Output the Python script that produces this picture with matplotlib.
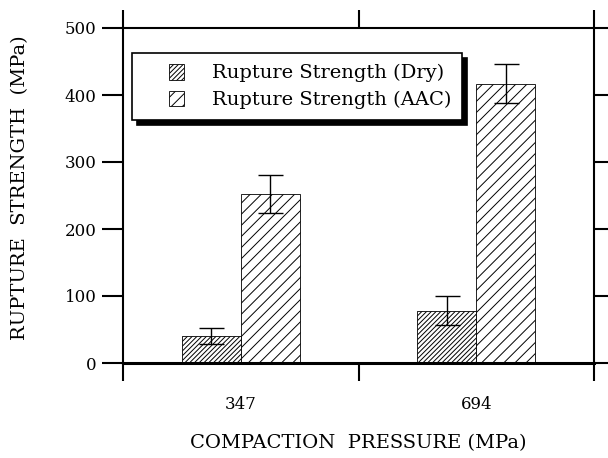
import matplotlib
matplotlib.use('Agg')
import matplotlib.pyplot as plt
import numpy as np
from matplotlib.patches import Rectangle
from matplotlib.container import BarContainer
from matplotlib.legend_handler import HandlerPatch, update_from_first_child

# compaction pressures and rupture strengths (MPa)
pressures = ['347', '694']
dry_strength = [40, 78]
dry_err = [12, 22]
aac_strength = [252, 417]
aac_err = [28, 29]
y_ticks = [0, 100, 200, 300, 400, 500]

plt.rcParams['font.family'] = ['DejaVu Serif']
plt.rcParams['hatch.linewidth'] = 0.7


def square_patch(legend, orig_handle, xdescent, ydescent, width, height, fontsize):
    # square swatch pushed to the right end of the handle box
    return Rectangle((-xdescent + width - height, -ydescent), height, height)


fig = plt.figure(figsize=(6.08, 4.58), dpi=100)
ax = fig.add_axes([123 / 608, 1 - 363 / 458, 471 / 608, 335 / 458])

x = np.arange(len(pressures))
w = 0.25
dry = ax.bar(x - w / 2, dry_strength, w, color='white', edgecolor='black',
             hatch='///////', linewidth=0.6, label='Rupture Strength (Dry)')
aac = ax.bar(x + w / 2, aac_strength, w, color='white', edgecolor='black',
             hatch='///', linewidth=0.6, label='Rupture Strength (AAC)')
ax.errorbar(x - w / 2, dry_strength, yerr=dry_err, fmt='none', ecolor='black',
            elinewidth=1, capsize=9, capthick=1)
ax.errorbar(x + w / 2, aac_strength, yerr=aac_err, fmt='none', ecolor='black',
            elinewidth=1, capsize=9, capthick=1)

ax.set_xlim(-0.5, 1.5)
ax.set_ylim(0, 500)

ax.set_xticks([-0.5, 0.5, 1.5])
ax.set_xticklabels([])
ax.set_xticks(x, pressures, minor=True)
ax.tick_params(axis='x', which='major', direction='out', length=13, width=1.5,
               top=True, bottom=True)
ax.tick_params(axis='x', which='minor', length=0, pad=24, labelsize=12)

ax.set_yticks(y_ticks)
ax.tick_params(axis='y', direction='out', length=15, width=1.5, left=True,
               right=True, labelsize=12, pad=4)

for side in ['left', 'right', 'top']:
    ax.spines[side].set_linewidth(1.5)
ax.spines['bottom'].set_linewidth(2.2)

ax.set_ylabel('RUPTURE  STRENGTH  (MPa)', fontsize=14)
ax.yaxis.set_label_coords(-0.2, 0.524)
ax.set_xlabel('COMPACTION  PRESSURE (MPa)', fontsize=14)
ax.xaxis.set_label_coords(0.5, -0.212)

leg = ax.legend(handles=[dry, aac], loc='upper left',
                bbox_to_anchor=(0.019, 0.925), borderaxespad=0,
                fontsize=14, handlelength=2.15, handleheight=0.87,
                handletextpad=1.4, labelspacing=0.42, borderpad=0.55,
                fancybox=False, framealpha=1, edgecolor='black',
                shadow={'color': 'black', 'alpha': 1, 'ox': 3.5, 'oy': -3.5},
                handler_map={BarContainer: HandlerPatch(
                    patch_func=square_patch,
                    update_func=update_from_first_child)})
leg.get_frame().set_linewidth(1.2)

fig.savefig('out.png', dpi=100)
